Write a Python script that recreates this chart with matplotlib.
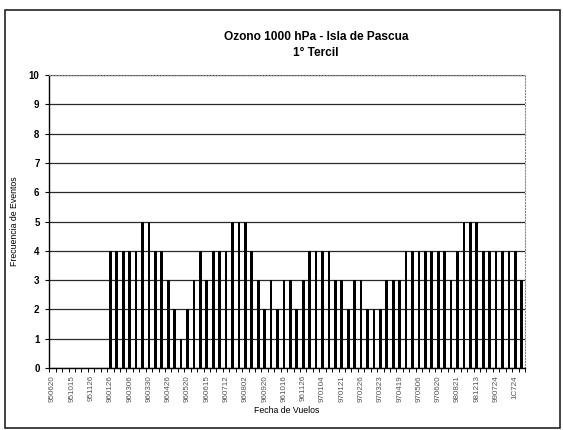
import matplotlib

matplotlib.use("Agg")

import matplotlib.pyplot as plt
import numpy as np
from matplotlib.patches import Rectangle

# event frequency per flight date (1st tercile), 74 categories
freq = [0, 0, 0, 0, 0, 0, 0, 0, 0,
        4, 4, 4, 4, 4, 5, 5, 4, 4, 3, 2, 1, 2, 3, 4, 3, 4, 4, 4, 5, 5, 5,
        4, 3, 2, 3, 2, 3, 3, 2, 3, 4, 4, 4, 4, 3, 3, 2, 3, 3, 2, 2, 2, 3,
        3, 3, 4, 4, 4, 4, 4, 4, 4, 3, 4, 5, 5, 5, 4, 4, 4, 4, 4, 4, 3]

# only every third date is labelled on the axis
tick_labels = ["950620", "951015", "951126", "960126", "960306", "960330",
               "960426", "960520", "960615", "960712", "960802", "960920",
               "961016", "961126", "970104", "970121", "970226", "970323",
               "970419", "970506", "970620", "980821", "981213", "990724",
               "1C724"]
label_step = 3

W, H = 563, 430
plt.rcParams.update({"font.family": ["Liberation Sans", "DejaVu Sans"]})
fig = plt.figure(figsize=(W / 100, H / 100), dpi=100)
fig.patch.set_facecolor("white")


def px(x0, y0, x1, y1):
    return [x0 / W, 1 - y1 / H, (x1 - x0) / W, (y1 - y0) / H]


ax = fig.add_axes(px(49.3, 75, 525, 368))

x = np.arange(len(freq))
ax.bar(x, freq, width=0.42, color="black", zorder=3)

ax.set_xlim(-0.5, len(freq) - 0.5)
ax.set_ylim(0, 10)
ax.set_yticks(range(0, 11))
ax.yaxis.grid(True, color="#2a2a2a", linewidth=0.9, zorder=0)
ax.set_axisbelow(True)

# labelled ticks at every 3rd category, tick marks between categories
ax.set_xticks(x[::label_step])
ax.set_xticklabels(tick_labels, rotation=90, fontsize=5.8, color="#555555")
ax.tick_params(axis="x", length=0, pad=5)
ax.set_xticks(np.arange(-0.5, len(freq), 1), minor=True)
ax.tick_params(axis="x", which="minor", length=3, width=0.7, direction="out")
ax.tick_params(axis="y", length=3, width=0.8, labelsize=7, pad=4)
for t in ax.get_yticklabels():
    t.set_fontweight("bold")

for s in ["top", "right"]:
    ax.spines[s].set_linestyle(":")
    ax.spines[s].set_color("#888888")
    ax.spines[s].set_linewidth(0.8)
for s in ["left", "bottom"]:
    ax.spines[s].set_color("black")
    ax.spines[s].set_linewidth(1.0)

ax.set_ylabel("Frecuencia de Eventos", fontsize=6.3, labelpad=7)
ax.set_xlabel("Fecha de Vuelos", fontsize=6.3, labelpad=3)

fig.text(316 / W, 1 - 37 / H, "Ozono 1000 hPa - Isla de Pascua",
         ha="center", va="center", fontsize=8.6, fontweight="bold")
fig.text(316 / W, 1 - 53 / H, "1° Tercil",
         ha="center", va="center", fontsize=8.6, fontweight="bold")

# outer chart frame
fig.patches.append(Rectangle((5 / W, 1 - 428 / H), 555 / W, 418 / H,
                             transform=fig.transFigure, fill=False,
                             edgecolor="#222222", linewidth=1.2))

fig.savefig("out.png", dpi=100)
